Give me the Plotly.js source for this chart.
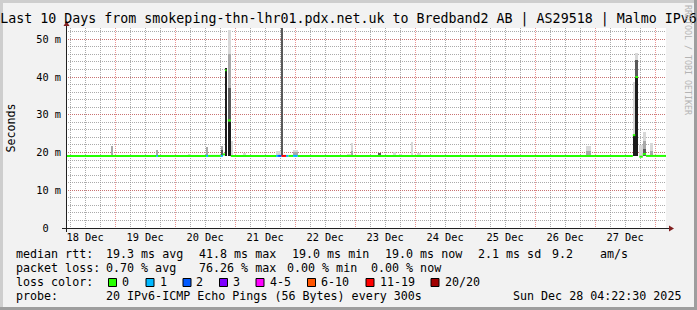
<!DOCTYPE html>
<html><head><meta charset="utf-8">
<script src="https://cdn.plot.ly/plotly-3.0.1.min.js"></script>
<style>html,body{margin:0;padding:0;background:#f2f2f2}#chart{width:697px;height:310px}</style>
</head><body><div id="chart"></div>
<script>
// ---------------- data ----------------
const titleText = 'Last 10 Days from smokeping-thn-lhr01.pdx.net.uk to Bredband2 AB | AS29518 | Malmo IPv6';
const startTime = '2025-12-18 04:22:30';
const endTime   = '2025-12-28 04:22:30';

const lossLabels = ['0','1','2','3','4-5','6-10','11-19','20/20'];
const lossColors = ['#26ff00','#00b8ff','#0059ff','#7e00ff','#ff00ff','#ff5500','#ff0000','#a10000'];

// smoke (ping spread) per time slot, ms
const smokeStart = ['2025-12-18 22:24','2025-12-19 16:30','2025-12-20 05:12','2025-12-20 12:24','2025-12-20 18:18',
  '2025-12-20 20:00','2025-12-20 21:06','2025-12-20 22:18','2025-12-21 03:12','2025-12-21 16:24','2025-12-21 18:18',
  '2025-12-21 23:12','2025-12-22 20:42','2025-12-22 22:24','2025-12-23 09:06','2025-12-23 15:18','2025-12-23 17:36',
  '2025-12-23 22:24','2025-12-24 00:48','2025-12-26 20:24','2025-12-27 15:06','2025-12-27 16:06','2025-12-27 17:42',
  '2025-12-27 19:06','2025-12-27 22:00'];
const smokeEnd = ['2025-12-18 23:00','2025-12-19 17:06','2025-12-20 06:24','2025-12-20 13:12','2025-12-20 19:06',
  '2025-12-20 20:36','2025-12-20 22:18','2025-12-20 23:06','2025-12-21 04:24','2025-12-21 18:18','2025-12-21 19:06',
  '2025-12-22 01:00','2025-12-22 22:24','2025-12-22 23:06','2025-12-23 10:24','2025-12-23 16:24','2025-12-23 18:42',
  '2025-12-23 23:06','2025-12-24 02:18','2025-12-26 22:18','2025-12-27 16:06','2025-12-27 17:12','2025-12-27 19:06',
  '2025-12-27 20:24','2025-12-27 23:18'];
const smokeBase = [19.0,19.0,19.0,19.0,19.0,19.0,19.0,19.0,19.0,19.0,19.0,19.0,19.0,19.0,19.0,19.0,19.0,19.0,19.0,19.0,19.0,19.0,19.0,19.0,19.0];
const smokeL1 = [null,null,19.7,null,null,null,52.4,23.0,19.9,20.5,null,20.6,19.7,22.4,null,20.2,19.7,22.7,19.8,21.7,38.8,46.4,22.0,25.5,22.4];
const smokeL2 = [21.7,20.8,null,21.5,21.7,null,46.0,null,null,null,null,20.2,null,20.5,null,null,null,null,null,20.3,null,null,null,23.0,20.5];
const smokeL3 = [null,null,null,null,20.8,null,37.0,null,null,null,60.0,null,null,null,20.0,null,null,null,null,null,null,44.5,null,21.0,null];
const smokeL4 = [null,null,null,null,null,42.4,28.0,null,null,null,null,null,null,null,null,null,null,null,null,null,24.6,40.0,null,null,null];

// median rtt segments, ms, with loss category index
const medStart = ['2025-12-18 04:22:30','2025-12-19 16:30','2025-12-19 17:06','2025-12-20 12:24','2025-12-20 13:12',
  '2025-12-20 18:18','2025-12-20 19:06','2025-12-20 20:00','2025-12-20 21:06','2025-12-20 22:18','2025-12-21 16:24',
  '2025-12-21 17:12','2025-12-21 18:36','2025-12-21 20:24','2025-12-21 21:18','2025-12-21 23:12','2025-12-22 01:00',
  '2025-12-27 15:06','2025-12-27 16:06','2025-12-27 17:42','2025-12-27 19:06','2025-12-27 20:24'];
const medEnd = ['2025-12-19 16:30','2025-12-19 17:06','2025-12-20 12:24','2025-12-20 13:12','2025-12-20 18:18',
  '2025-12-20 19:06','2025-12-20 20:00','2025-12-20 20:36','2025-12-20 22:18','2025-12-21 16:24','2025-12-21 17:12',
  '2025-12-21 18:36','2025-12-21 20:24','2025-12-21 21:18','2025-12-21 23:12','2025-12-22 01:00','2025-12-27 15:06',
  '2025-12-27 16:06','2025-12-27 17:12','2025-12-27 19:06','2025-12-27 20:24','2025-12-28 04:22:30'];
const medValue = [19.1,19.1,19.1,19.1,19.1,19.1,19.5,41.8,28.5,19.1,19.1,19.1,19.1,19.1,19.1,19.1,19.1,24.6,40.0,18.9,19.6,19.1];
const medLoss  = [0,1,0,1,0,1,0,0,0,0,1,2,6,1,0,1,0,0,0,0,0,0];

const yTickVals = [0,10,20,30,40,50];
const yTickText = ['0\u00a0\u00a0','10 m','20 m','30 m','40 m','50 m'];

const statsMedian = ['median rtt:','19.3 ms avg','41.8 ms max','19.0 ms min','19.0 ms now','2.1 ms sd','9.2','am/s'];
const statsLoss   = ['packet loss:','0.70 % avg','76.26 % max','0.00 % min','0.00 % now'];
const probeLine   = ['probe:','20 IPv6-ICMP Echo Pings (56 Bytes) every 300s','Sun Dec 28 04:22:30 2025'];
const watermark   = 'RRDTOOL / TOBI OETIKER';

// ---------------- drawing ----------------
const toMs = s => Date.parse(s.replace(' ','T') + 'Z');
const PL = 66, PW = 600, PT = 28, PH = 200;
const px = x => (x - PL) / PW;
const py = y => (PT + PH - y) / PH;
const MONO = 'DejaVu Sans Mono';
const nb = s => s.replace(/ /g, '\u00a0');

const traces = [];
const layerColors = ['#d8d8d8','#a8a8a8','#5a5a5a','#1c1c1c'];
[smokeL1, smokeL2, smokeL3, smokeL4].forEach((tops, k) => {
  const idx = [];
  tops.forEach((v, i) => { if (v !== null) idx.push(i); });
  traces.push({
    type: 'bar',
    x: idx.map(i => (toMs(smokeStart[i]) + toMs(smokeEnd[i])) / 2),
    width: idx.map(i => toMs(smokeEnd[i]) - toMs(smokeStart[i])),
    base: idx.map(i => smokeBase[i]),
    y: idx.map(i => tops[i] - smokeBase[i]),
    marker: {color: layerColors[k], line: {width: 0}},
    hoverinfo: 'skip', showlegend: false
  });
});
lossColors.forEach((c, k) => {
  const xs = [], ys = [];
  medLoss.forEach((l, i) => {
    if (l === k) {
      xs.push(toMs(medStart[i]), toMs(medEnd[i]), null);
      ys.push(medValue[i], medValue[i], null);
    }
  });
  if (xs.length) traces.push({type: 'scatter', mode: 'lines', x: xs, y: ys,
    line: {color: c, width: 2}, connectgaps: false, hoverinfo: 'skip', showlegend: false});
});

const annotations = [];
function ann(text, x, y, opts) {
  annotations.push(Object.assign({text: nb(text), xref: 'paper', yref: 'paper', x: px(x), y: py(y),
    xanchor: 'left', yanchor: 'middle', showarrow: false, borderpad: 0, borderwidth: 0,
    font: {family: MONO, size: 11.66, color: '#000'}}, opts || {}));
}
const l1x = [15.5,106,199,292,384.5,478,551.5,599.5];
statsMedian.forEach((t, i) => ann(t, l1x[i], 254.3));
const l2x = [15.5,106,199,287,371];
statsLoss.forEach((t, i) => ann(t, l2x[i], 268.1));
ann('loss color:', 15.5, 282);
const sqx = [108.5,146,183,219.5,256,307.5,366,431];
const lbx = [122.3,159.7,196.3,233,269.7,321,379.7,444.7];
const shapes = [];
lossLabels.forEach((t, i) => {
  ann(t, lbx[i], 282);
  shapes.push({type: 'rect', xref: 'paper', yref: 'paper', x0: px(sqx[i]), x1: px(sqx[i] + 8),
    y0: py(286.5), y1: py(278.5), fillcolor: lossColors[i], line: {color: '#000', width: 1}});
});
ann(probeLine[0], 15.5, 296);
ann(probeLine[1], 106, 296);
ann(probeLine[2], 680.5, 296, {xanchor: 'right'});
annotations.push({text: watermark, xref: 'paper', yref: 'paper', x: px(688), y: py(60), textangle: 90,
  xanchor: 'center', yanchor: 'middle', showarrow: false, borderpad: 0,
  font: {family: MONO, size: 8.3, color: '#b4b4b4'}});

// axes lines and arrows
const AX = '#202020', AR = '#801f1f';
shapes.push({type: 'line', xref: 'paper', yref: 'paper', x0: px(62), x1: px(670), y0: py(228.5), y1: py(228.5), line: {color: AX, width: 1}});
shapes.push({type: 'line', xref: 'paper', yref: 'paper', x0: px(66.5), x1: px(66.5), y0: py(232), y1: py(25), line: {color: AX, width: 1}});
shapes.push({type: 'path', xref: 'paper', yref: 'paper', fillcolor: AR, line: {width: 0},
  path: `M${px(669)},${py(225.5)} L${px(674)},${py(228.5)} L${px(669)},${py(231.5)} Z`});
shapes.push({type: 'path', xref: 'paper', yref: 'paper', fillcolor: AR, line: {width: 0},
  path: `M${px(63.5)},${py(26)} L${px(66.5)},${py(21)} L${px(69.5)},${py(26)} Z`});
// frame shading
shapes.push({type: 'rect', xref: 'paper', yref: 'paper', x0: px(0), x1: px(697), y0: py(0), y1: py(3), fillcolor: '#cecece', line: {width: 0}});
shapes.push({type: 'rect', xref: 'paper', yref: 'paper', x0: px(0), x1: px(3), y0: py(0), y1: py(310), fillcolor: '#cecece', line: {width: 0}});
shapes.push({type: 'rect', xref: 'paper', yref: 'paper', x0: px(0), x1: px(697), y0: py(307), y1: py(310), fillcolor: '#9e9e9e', line: {width: 0}});
shapes.push({type: 'rect', xref: 'paper', yref: 'paper', x0: px(694), x1: px(697), y0: py(0), y1: py(310), fillcolor: '#9e9e9e', line: {width: 0}});

const MGRID = 'rgba(222,79,79,0.6)', GRID = 'rgba(143,143,143,0.75)';
const layout = {
  width: 697, height: 310,
  margin: {l: PL, r: 697 - PL - PW, t: PT, b: 310 - PT - PH, pad: 0},
  paper_bgcolor: '#f2f2f2', plot_bgcolor: '#ffffff',
  barmode: 'overlay', bargap: 0,
  title: {text: nb(titleText), xref: 'container', yref: 'container', x: 0.5, y: 1 - 18.7 / 310,
    xanchor: 'center', yanchor: 'middle', font: {family: MONO, size: 13.3, color: '#000'}},
  xaxis: {type: 'date', range: [toMs(startTime), toMs(endTime)], tickmode: 'linear',
    tick0: toMs('2025-12-18 00:00'), dtick: 86400000, ticklabelmode: 'period', tickformat: '%d %b',
    showgrid: true, gridcolor: MGRID, griddash: '1px,1px', gridwidth: 1,
    minor: {tick0: toMs('2025-12-18 00:00'), dtick: 21600000, showgrid: true, gridcolor: GRID, griddash: '1px,1px', gridwidth: 1},
    ticks: '', showline: false, zeroline: false, ticklabelstandoff: 2,
    tickfont: {family: MONO, size: 10.3, color: '#000'}, fixedrange: true},
  yaxis: {range: [0, 53], tickmode: 'array', tickvals: yTickVals, ticktext: yTickText,
    showgrid: true, gridcolor: MGRID, griddash: '1px,1px', gridwidth: 1,
    minor: {tickmode: 'linear', tick0: 0, dtick: 2, showgrid: true, gridcolor: GRID, griddash: '1px,1px', gridwidth: 1},
    ticks: '', showline: false, zeroline: false, ticklabelstandoff: 4,
    tickfont: {family: MONO, size: 10.3, color: '#000'},
    title: {text: 'Seconds', standoff: 18, font: {family: MONO, size: 11.66, color: '#000'}}, fixedrange: true},
  showlegend: false,
  annotations: annotations,
  shapes: shapes
};
Plotly.newPlot('chart', traces, layout, {displayModeBar: false, staticPlot: true});
</script></body></html>
